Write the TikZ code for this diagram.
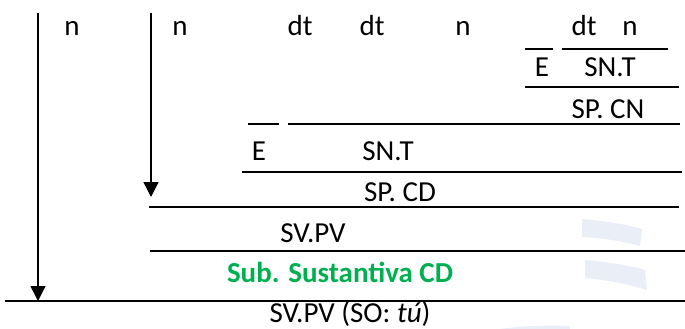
\documentclass[tikz,border=0pt]{standalone}
\usepackage{fontspec}
\setmainfont{Carlito}
\usetikzlibrary{arrows.meta}
\definecolor{sgreen}{RGB}{0,176,80}
\definecolor{wmark}{RGB}{234,239,247}
\begin{document}
\begin{tikzpicture}[x=1pt,y=-1pt,
  lbl/.style={anchor=base,inner sep=0pt,font=\fontsize{29}{35}\selectfont},
  uline/.style={line width=1.4pt},
  darrow/.style={line width=1.4pt,-{Triangle[width=15pt,length=15pt]}}]
\useasboundingbox (0,0) rectangle (685,329);
% faint watermark
\fill[wmark] (582,219) .. controls (605,221) and (625,224) .. (642,229) -- (640,246) .. controls (622,241) and (602,238) .. (582,237) -- cycle;
\fill[wmark] (585,260) .. controls (608,262) and (628,265) .. (645,270) -- (647,290) .. controls (628,284) and (606,280) .. (585,278) -- cycle;
\fill[wmark] (500,329) .. controls (520,326) and (545,325) .. (570,326) -- (570,329) -- cycle;
% top row words
\node[lbl] (n1) at (72,36) {n};
\node[lbl] (n2) at (180,36) {n};
\node[lbl] (dt1) at (300,36) {dt};
\node[lbl] (dt2) at (372,36) {dt};
\node[lbl] (n3) at (463,36) {n};
\node[lbl] (dt3) at (584,36) {dt};
\node[lbl] (n4) at (630,36) {n};
% SP. CN
\draw[uline] (525,49) -- (553,49);
\draw[uline] (562,49) -- (668,49);
\node[lbl] (e1) at (542,76) {E};
\node[lbl] (snt1) at (610,76) {SN.T};
\draw[uline] (525,87) -- (679,87);
\node[lbl] (spcn) at (608,118) {SP. CN};
% SP. CD
\draw[uline] (248,124) -- (279,124);
\draw[uline] (288,124) -- (680,124);
\node[lbl] (e2) at (259,160) {E};
\node[lbl] (snt2) at (388,160) {SN.T};
\draw[uline] (242,172) -- (682,172);
\node[lbl] (spcd) at (400,201) {SP. CD};
\draw[uline] (149,207) -- (679,207);
\node[lbl] (svpv1) at (313,242) {SV.PV};
\draw[uline] (150,251) -- (685,251);
\node[lbl,font=\fontsize{29}{35}\selectfont\bfseries,text=sgreen] (sub) at (340,282) {Sub. Sustantiva CD};
\draw[uline] (5,301) -- (685,301);
\node[lbl] (svpv2) at (350,322) {SV.PV (SO: \textit{tú})};
% arrows
\coordinate (a1s) at (38,13);
\coordinate (a1e) at (38,301);
\coordinate (a2s) at (151,13);
\coordinate (a2e) at (151,197);
\draw[darrow] (a1s) -- (a1e);
\draw[darrow] (a2s) -- (a2e);
\end{tikzpicture}
\end{document}
